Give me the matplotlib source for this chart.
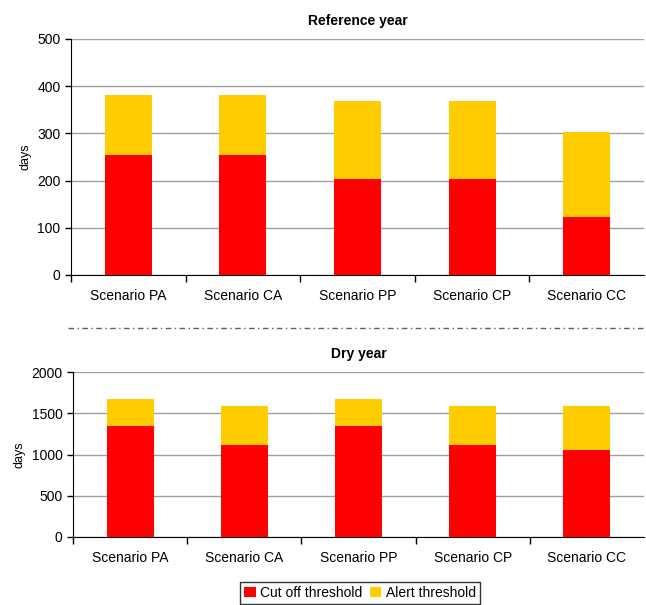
import matplotlib.pyplot as plt
import numpy as np
from matplotlib.lines import Line2D

plt.rcParams["font.family"] = ["Liberation Sans", "DejaVu Sans"]

scenarios = ["Scenario PA", "Scenario CA", "Scenario PP", "Scenario CP", "Scenario CC"]

# days per threshold, stacked: cut off at the bottom, alert on top
ref_cutoff = [254, 254, 203, 203, 122]
ref_alert = [127, 127, 165, 165, 180]
dry_cutoff = [1349, 1115, 1349, 1115, 1050]
dry_alert = [327, 468, 327, 468, 533]

RED = "#ff0000"
YELLOW = "#ffcc00"


def draw_panel(ax, cutoff, alert, title, ymax, step):
    x = np.arange(len(scenarios))
    ax.bar(x, cutoff, width=0.41, color=RED, label="Cut off threshold", zorder=3)
    ax.bar(x, alert, width=0.41, bottom=cutoff, color=YELLOW,
           label="Alert threshold", zorder=3)
    ax.set_xlim(-0.5, len(scenarios) - 0.5)
    ax.set_ylim(0, ymax)
    ax.set_yticks(np.arange(0, ymax + 1, step))
    ax.set_xticks(x)
    ax.set_xticklabels(scenarios, fontsize=10)
    ax.tick_params(axis="x", length=0, pad=10)
    # boundary ticks between categories
    ax.set_xticks(np.arange(-0.5, len(scenarios) - 0.5, 1.0), minor=True)
    ax.tick_params(axis="x", which="minor", length=5, direction="out", width=1)
    ax.tick_params(axis="y", labelsize=10, length=4, direction="out", width=1)
    ax.grid(axis="y", color="#a0a0a0", linewidth=1, zorder=0)
    for side in ("top", "right"):
        ax.spines[side].set_visible(False)
    ax.set_ylabel("days", fontsize=9, labelpad=4)
    ax.set_title(title, fontsize=10, fontweight="bold", pad=10)


fig = plt.figure(figsize=(6.46, 6.05), dpi=100)
ax_ref = fig.add_axes([71 / 646, 1 - 275 / 605, 573 / 646, 236 / 605])
ax_dry = fig.add_axes([73 / 646, 1 - 537 / 605, 571 / 646, 165 / 605])

draw_panel(ax_ref, ref_cutoff, ref_alert, "Reference year", 500, 100)
draw_panel(ax_dry, dry_cutoff, dry_alert, "Dry year", 2000, 500)

# dash-dot separator between the two panels
fig.add_artist(Line2D([68 / 646, 644 / 646], [1 - 328 / 605, 1 - 328 / 605],
                      color="#606060", linestyle=(0, (4, 2.5, 1, 2.5)),
                      linewidth=1))

handles, labels = ax_dry.get_legend_handles_labels()
leg = fig.legend(handles, labels, loc="center", ncol=2,
                 bbox_to_anchor=(360 / 646, 1 - 593 / 605), fontsize=10,
                 frameon=True, fancybox=False, edgecolor="black",
                 handlelength=0.8, handleheight=0.8, handletextpad=0.3,
                 columnspacing=0.6, borderpad=0.3, borderaxespad=0)
leg.get_frame().set_linewidth(1)

fig.savefig("out.png", dpi=100)
